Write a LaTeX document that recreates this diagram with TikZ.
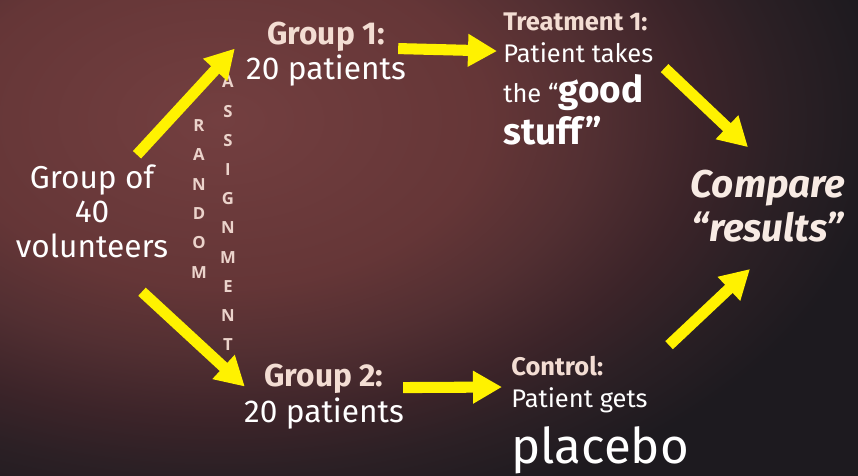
\documentclass[tikz,border=0pt]{standalone}
\usepackage{fontspec}
\setmainfont{Fira Sans}
\newfontfamily\letterfont{Open Sans}
\usetikzlibrary{arrows.meta}
\definecolor{bgred}{HTML}{733F40}
\definecolor{bgwarm}{HTML}{653637}
\definecolor{bgmid}{HTML}{522F32}
\definecolor{bgdim}{HTML}{3C2429}
\definecolor{bglow}{HTML}{2C2025}
\definecolor{bgdark}{HTML}{1D1A1F}
\definecolor{pinkhead}{HTML}{F3DDD3}
\definecolor{pinkletter}{HTML}{EBD3CB}
\pgfdeclareradialshading{slideglow}{\pgfpoint{0bp}{0bp}}{color(0bp)=(bgred); color(8.3bp)=(bgwarm); color(11.7bp)=(bgmid); color(15bp)=(bgdim); color(17.5bp)=(bglow); color(20.8bp)=(bgdark); color(50bp)=(bgdark)}
\newcommand\grouphead[1]{{\bfseries\color{pinkhead}#1}}

\begin{document}
\begin{tikzpicture}[x=0.02cm,y=-0.02cm,
  txt/.style={inner sep=0pt,text=white,font=\fontsize{18}{20}\selectfont},
  smalltxt/.style={inner sep=0pt,text=white,align=left,anchor=base west,font=\fontsize{14.5}{18.2}\selectfont},
  letter/.style={inner sep=0pt,text=pinkletter,font=\letterfont\bfseries\fontsize{9.5}{10}\selectfont},
  yarrow/.style={draw=yellow,line width=6.3pt,-{Triangle[width=17.6pt,length=16.5pt]}}]
\path[use as bounding box] (0,0) rectangle (858,476);
\begin{scope}
\clip (0,0) rectangle (858,476);
\fill[bgdark] (0,0) rectangle (858,476);
\shade[shading=slideglow] (220,120) ellipse [x radius=16cm,y radius=10cm];
\end{scope}

% base anchor of a multi-line node sits on its last line
\node[txt,align=center,anchor=base,font=\fontsize{18}{19.4}\selectfont] (vol) at (92,257) {Group of\\40\\volunteers};
\node[txt,align=center,anchor=base] (g1) at (326,80) {\grouphead{Group 1:}\\20 patients};
\node[txt,align=center,anchor=base] (g2) at (324,422) {\grouphead{Group 2:}\\20 patients};
\node[smalltxt] (treat) at (503,145) {\grouphead{Treatment 1:}\\Patient takes\\[4.6pt]the “{\fontsize{21}{18.2}\selectfont\bfseries good}\\[2.6pt]{\fontsize{21}{18.2}\selectfont\bfseries stuff”}};
\node[smalltxt] (ctrl) at (511,463) {\grouphead{Control:}\\Patient gets\\[6.3pt]{\fontsize{28}{18.2}\selectfont placebo}};
\node[txt,align=center,anchor=base,text=pinkhead!60!white,font=\fontsize{22}{24.5}\selectfont\bfseries\itshape] (cmp) at (768,241) {Compare\\“results”};

\foreach \l [count=\i] in {R,A,N,D,O,M}
  \node[letter] (rand\i) at (199,{96+29.4*\i}) {\l};
\foreach \l [count=\i] in {A,S,S,I,G,N,M,E,N,T}
  \node[letter] (asgn\i) at (228,{52.8+29.2*\i}) {\l};

\draw[yarrow] ([shift={(45,-10)}]vol.north) -- ([shift={(-11,-6)}]g1.west);
\draw[yarrow] ([shift={(50,34)}]vol.south) -- ([shift={(1,-10)}]g2.west);
\draw[yarrow] ([shift={(-8,-6)}]g1.east) -- ([shift={(-6,-28)}]treat.west);
\draw[yarrow] ([shift={(-1,-9)}]g2.east) -- ([shift={(-9,-28)}]ctrl.west);
\draw[yarrow] ([shift={(11,-11)}]treat.east) -- ([shift={(-20,-23)}]cmp.north);
\draw[yarrow] ([shift={(69,-11)}]ctrl.north) -- ([shift={(-18,27)}]cmp.south);
\end{tikzpicture}
\end{document}
